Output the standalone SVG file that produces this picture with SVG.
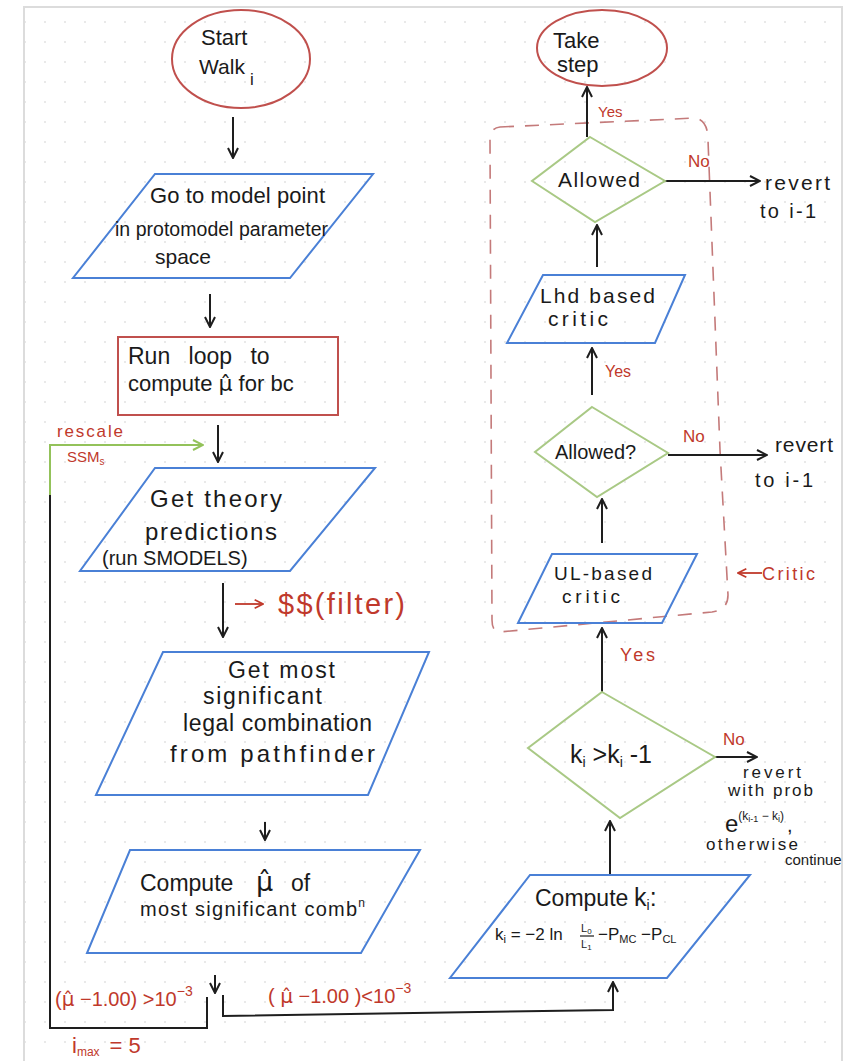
<svg xmlns="http://www.w3.org/2000/svg" width="846" height="1061" viewBox="0 0 846 1061">
<defs>
<pattern id="dots" x="0" y="0" width="20" height="20" patternUnits="userSpaceOnUse">
<circle cx="5" cy="2" r="1.1" fill="#e4e4e4"/>
</pattern>
<marker id="ah" viewBox="0 0 12 12" refX="11" refY="6" markerWidth="12" markerHeight="12" markerUnits="userSpaceOnUse" orient="auto">
<path d="M1,1 L11,6 L1,11" fill="none" stroke="#1e1e1e" stroke-width="2"/>
</marker>
<marker id="ahg" viewBox="0 0 12 12" refX="11" refY="6" markerWidth="12" markerHeight="12" markerUnits="userSpaceOnUse" orient="auto">
<path d="M1,1 L11,6 L1,11" fill="none" stroke="#93c25a" stroke-width="2"/>
</marker>
<marker id="ahr" viewBox="0 0 12 12" refX="11" refY="6" markerWidth="10" markerHeight="10" markerUnits="userSpaceOnUse" orient="auto">
<path d="M1,1 L11,6 L1,11" fill="none" stroke="#c0392b" stroke-width="2"/>
</marker>
</defs>
<style>
text{font-family:"Liberation Sans","DejaVu Sans",sans-serif;fill:#1a1a1a;font-size:20px}
.mu{font-family:"DejaVu Sans",sans-serif}
.r{fill:#c0392b}
.c{text-anchor:middle}
.blue{fill:none;stroke:#4a80d6;stroke-width:2}
.red{fill:none;stroke:#c0504d;stroke-width:2}
.grn{fill:none;stroke:#a9c985;stroke-width:2}
.ln{fill:none;stroke:#1e1e1e;stroke-width:2}
.rl{fill:none;stroke:#c0392b;stroke-width:1.8}
</style>
<rect x="0" y="0" width="846" height="1061" fill="#ffffff"/>
<rect x="24" y="7" width="818" height="1054" fill="url(#dots)"/>
<path d="M24,1061 L24,7 L842,7 L842,1061" fill="none" stroke="#dcdcdc" stroke-width="2"/>

<g id="critic-region">
<path d="M500,127 L695,118 Q708,120 708,140 L720,450 L728,595 Q728,610 712,612 L500,632 Q492,632 492,620 L490,140 Q490,128 500,127 Z" fill="none" stroke="#c47a7a" stroke-width="1.6" stroke-dasharray="14 11"/>
</g>

<g id="connectors">
<line class="ln" x1="233" y1="117" x2="233" y2="158" marker-end="url(#ah)"/>
<line class="ln" x1="210" y1="294" x2="210" y2="327" marker-end="url(#ah)"/>
<line class="ln" x1="218" y1="425" x2="218" y2="462" marker-end="url(#ah)"/>
<line class="ln" x1="223" y1="583" x2="223" y2="637" marker-end="url(#ah)"/>
<line class="ln" x1="265" y1="822" x2="265" y2="840" marker-end="url(#ah)"/>
<line class="ln" x1="215" y1="975" x2="215" y2="993" marker-end="url(#ah)"/>
<path class="ln" d="M207,997 L207,1028 L50,1028 L50,495"/>
<path d="M50,495 L50,445 L203,445" fill="none" stroke="#93c25a" stroke-width="2" marker-end="url(#ahg)"/>
<path class="ln" d="M223,995 L223,1016 L613,1010 L613,982" marker-end="url(#ah)"/>
<line class="rl" x1="235" y1="604" x2="263" y2="604" marker-end="url(#ahr)"/>
<line class="rl" x1="762" y1="573" x2="738" y2="573" marker-end="url(#ahr)"/>
<line class="ln" x1="587" y1="137" x2="587" y2="87" marker-end="url(#ah)"/>
<line class="ln" x1="597" y1="267" x2="597" y2="225" marker-end="url(#ah)"/>
<line class="ln" x1="592" y1="395" x2="592" y2="348" marker-end="url(#ah)"/>
<line class="ln" x1="602" y1="543" x2="602" y2="499" marker-end="url(#ah)"/>
<line class="ln" x1="602" y1="692" x2="602" y2="628" marker-end="url(#ah)"/>
<line class="ln" x1="610" y1="874" x2="610" y2="821" marker-end="url(#ah)"/>
<line class="ln" x1="665" y1="181" x2="760" y2="181" marker-end="url(#ah)"/>
<line class="ln" x1="668" y1="455" x2="767" y2="455" marker-end="url(#ah)"/>
<line class="ln" x1="715" y1="757" x2="757" y2="757" marker-end="url(#ah)"/>
</g>

<g id="start">
<ellipse class="red" cx="241" cy="59" rx="69" ry="49"/>
<text x="201" y="45" style="font-size:22px">Start</text>
<text x="199" y="74" style="font-size:21px">Walk<tspan x="250" dy="11" font-size="17">i</tspan></text>
</g>

<g id="goto">
<polygon class="blue" points="155,174 373,174 290,278 73,278"/>
<text x="150" y="203" style="font-size:22px" textLength="175">Go to model point</text>
<text x="115" y="236" style="font-size:19.5px" textLength="213">in protomodel parameter</text>
<text x="155" y="264" style="font-size:21px">space</text>
</g>

<g id="runloop">
<rect class="red" x="118" y="337" width="220" height="78"/>
<text x="128" y="364" style="font-size:23px;word-spacing:12px">Run loop to</text>
<text x="128" y="391" style="font-size:22px">compute <tspan class="mu">μ̂</tspan> for bc</text>
</g>

<g id="rescale-label">
<text class="r" x="57" y="437" style="font-size:17px" textLength="66">rescale</text>
<text class="r" x="67" y="462" style="font-size:15px">SSM<tspan font-size="10" dy="3">s</tspan></text>
</g>

<g id="theory">
<polygon class="blue" points="155,468 375,468 290,571 80,571"/>
<text x="150" y="507" style="font-size:24px" textLength="132">Get theory</text>
<text x="145" y="540" style="font-size:24px" textLength="132">predictions</text>
<text x="102" y="565" style="font-size:20px">(run SMODELS)</text>
</g>

<g id="filter">
<text class="r" x="278" y="614" style="font-size:29px" textLength="127">$$(filter)</text>
</g>

<g id="pathfinder">
<polygon class="blue" points="163,652 429,652 368,795 96,795"/>
<text x="228" y="678" style="font-size:23px" textLength="107">Get most</text>
<text x="203" y="704" style="font-size:23px" textLength="119">significant</text>
<text x="183" y="731" style="font-size:23px" textLength="189">legal combination</text>
<text x="170" y="762" style="font-size:24px" textLength="205">from pathfinder</text>
</g>

<g id="computemu">
<polygon class="blue" points="130,850 420,850 361,953 87,953"/>
<text x="140" y="891" style="font-size:23px">Compute<tspan x="256" class="mu" font-size="27">μ̂</tspan><tspan x="291">of</tspan></text>
<text x="140" y="916" style="font-size:20px" textLength="225">most significant comb<tspan dy="-9" font-size="12">n</tspan></text>
</g>

<g id="branch-labels">
<text class="r" x="55" y="1006" style="font-size:20px">(<tspan class="mu">μ̂</tspan> −1.00) &gt;10<tspan dy="-10" font-size="14">−3</tspan></text>
<text class="r" x="268" y="1003" style="font-size:20px">( <tspan class="mu">μ̂</tspan> −1.00 )&lt;10<tspan dy="-10" font-size="14">−3</tspan></text>
<text class="r" x="72" y="1053" style="font-size:22px">i<tspan font-size="12" dy="3">max</tspan><tspan dy="-3" dx="10">= 5</tspan></text>
</g>

<g id="takestep">
<ellipse class="red" cx="602" cy="48" rx="65" ry="38"/>
<text x="553" y="48" style="font-size:22px">Take</text>
<text x="557" y="72" style="font-size:22px">step</text>
</g>
<text class="r" x="598" y="117" style="font-size:15px">Yes</text>

<g id="allowed1">
<polygon class="grn" points="590,137 665,181 595,222 532,181"/>
<text x="558" y="187" style="font-size:21px" textLength="82">Allowed</text>
</g>
<g id="revert1">
<text class="r" x="688" y="167" style="font-size:17px">No</text>
<text x="765" y="190" style="font-size:21px" textLength="65">revert</text>
<text x="760" y="218" style="font-size:20px" textLength="56">to i-1</text>
</g>

<g id="lhd">
<polygon class="blue" points="543,275 685,275 655,343 507,343"/>
<text x="540" y="303" style="font-size:21px" textLength="115">Lhd based</text>
<text x="548" y="326" style="font-size:21px" textLength="60">critic</text>
</g>
<text class="r" x="605" y="377" style="font-size:16px">Yes</text>

<g id="allowed2">
<polygon class="grn" points="592,407 668,453 597,497 535,452"/>
<text x="555" y="459" style="font-size:20px">Allowed?</text>
</g>
<g id="revert2">
<text class="r" x="683" y="442" style="font-size:17px">No</text>
<text x="775" y="452" style="font-size:21px" textLength="58">revert</text>
<text x="755" y="487" style="font-size:20px" textLength="58">to i-1</text>
</g>

<g id="ulcritic">
<polygon class="blue" points="552,554 697,554 662,623 518,623"/>
<text x="554" y="580" style="font-size:19px" textLength="98">UL-based</text>
<text x="562" y="603" style="font-size:19px" textLength="58">critic</text>
</g>
<text class="r" x="762" y="580" style="font-size:18px" textLength="53">Critic</text>
<text class="r" x="620" y="661" style="font-size:18px" textLength="35">Yes</text>

<g id="kdecision">
<polygon class="grn" points="602,692 715,757 620,818 528,748"/>
<text x="570" y="763" style="font-size:25px">k<tspan font-size="14" dy="4">i</tspan><tspan dy="-4"> &gt;k</tspan><tspan font-size="14" dy="4">i</tspan><tspan dy="-4"> -1</tspan></text>
</g>
<g id="revert3">
<text class="r" x="723" y="745" style="font-size:17px">No</text>
<text x="743" y="778" style="font-size:17px" textLength="58">revert</text>
<text x="728" y="796" style="font-size:17px" textLength="85">with prob</text>
<text x="725" y="832" style="font-size:24px">e<tspan dy="-12" font-size="12">(k</tspan><tspan font-size="9" dy="2">i-1</tspan><tspan font-size="12" dy="-2"> − k</tspan><tspan font-size="9" dy="2">i</tspan><tspan font-size="12" dy="-2">)</tspan><tspan dx="3" dy="12" font-size="20">,</tspan></text>
<text x="706" y="850" style="font-size:17px" textLength="92">otherwise</text>
<text x="785" y="865" style="font-size:15px">continue</text>
</g>

<g id="computek">
<polygon class="blue" points="530,875 750,875 667,978 450,978"/>
<text x="535" y="906" style="font-size:23px">Compute<tspan x="634" font-size="25">k</tspan><tspan font-size="14" dy="4">i</tspan><tspan dy="-4" font-size="25">:</tspan></text>
<text x="495" y="940" style="font-size:17px">k<tspan font-size="11" dy="3">i</tspan><tspan dy="-3"> = −2 ln</tspan></text>
<text x="581" y="932" style="font-size:11px">L<tspan font-size="8" dy="2">0</tspan></text>
<line x1="580" y1="936" x2="594" y2="936" stroke="#1a1a1a" stroke-width="1.2"/>
<text x="581" y="948" style="font-size:11px">L<tspan font-size="8" dy="2">1</tspan></text>
<text x="598" y="940" style="font-size:17px">−P<tspan font-size="11" dy="3">MC</tspan><tspan dy="-3"> −P</tspan><tspan font-size="11" dy="3">CL</tspan></text>
</g>
</svg>
